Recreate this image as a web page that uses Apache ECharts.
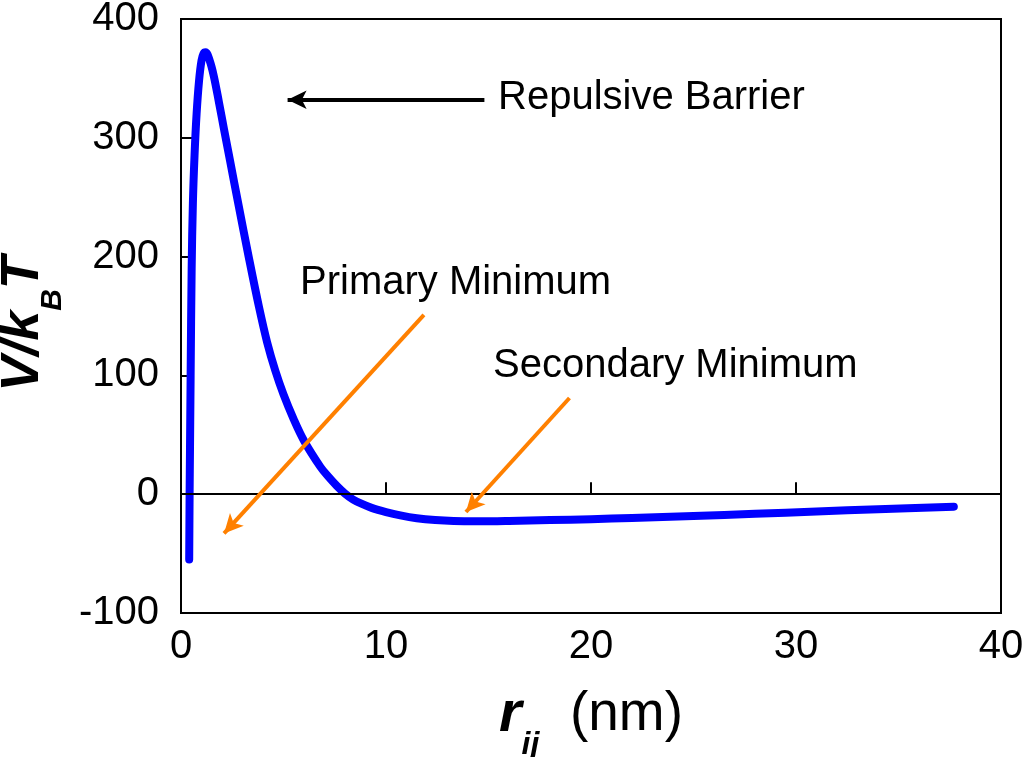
<!DOCTYPE html>
<html>
<head>
<meta charset="utf-8">
<title>DLVO potential</title>
<script src="https://cdn.jsdelivr.net/npm/echarts@6/dist/echarts.min.js"></script>
<style>
  html, body { margin: 0; padding: 0; background: #fff; }
  #chart { width: 1024px; height: 757px; }
</style>
</head>
<body>
<div id="chart"></div>
<script>
// separation r_ij (nm) and potential V/kBT
var rValues = [0.40, 0.42, 0.44, 0.47, 0.52, 0.58, 0.66, 0.76, 0.88, 1.00, 1.10, 1.20,
  1.40, 1.60, 1.85, 2.10, 2.40, 2.80, 3.30, 3.80, 4.20, 4.60, 5.00, 5.50, 6.00, 6.80,
  7.20, 7.60, 8.00, 8.40, 8.80, 9.30, 10.0, 10.7, 11.5, 12.4, 13.3, 14.5, 16.0, 18.0,
  20.0, 22.0, 25.0, 28.0, 31.0, 34.0, 37.7];
var vValues = [-55, 0, 40, 100, 190, 245, 285, 320, 348, 365, 371, 372,
  365, 352, 330, 307, 280, 244, 200, 158, 128, 104, 84, 63, 45, 23,
  14.5, 7, 0.5, -4.5, -8, -11.5, -15, -17.8, -20.2, -21.8, -22.6, -22.8, -22.5, -21.8,
  -21, -20, -18.3, -16.5, -14.6, -12.6, -10.5];

var xTicks = { min: 0, max: 40, step: 10 };
var yTicks = { min: -100, max: 400, step: 100 };

// annotation arrows: [from, to] in data units
var barrierArrow = [[14.8, 332], [5.2, 332]];
var primaryArrow = [[11.85, 151], [2.1, -33]];
var secondaryArrow = [[18.95, 81], [13.9, -15]];

var curve = rValues.map(function (r, i) { return [r, vValues[i]]; });

var FONT = "'Liberation Sans', Arial, sans-serif";

function arrowItem(pts, color) {
  return [
    { coord: pts[0], lineStyle: { color: color, width: 4, type: 'solid' } },
    { coord: pts[1] }
  ];
}

var chart = echarts.init(document.getElementById('chart'));

var option = {
  animation: false,
  backgroundColor: '#fff',
  textStyle: { fontFamily: FONT },
  grid: {
    left: 181, right: 23, top: 19, bottom: 144,
    containLabel: false,
    outerBoundsMode: 'none',
    show: true, borderColor: '#000', borderWidth: 2
  },
  xAxis: {
    type: 'value',
    min: xTicks.min, max: xTicks.max, interval: xTicks.step,
    axisLine: { show: true, lineStyle: { color: '#000', width: 2 } },
    axisTick: { show: true, inside: true, length: 12, lineStyle: { color: '#000', width: 2 } },
    axisLabel: { color: '#000', fontSize: 40, fontFamily: FONT, margin: 14 },
    splitLine: { show: false },
    name: '{r|r}{s|ij}{n|  (nm)}',
    nameLocation: 'middle',
    nameGap: 56,
    nameTextStyle: {
      rich: {
        r: { fontSize: 58, fontWeight: 'bold', fontStyle: 'italic', fontFamily: FONT, color: '#000', lineHeight: 92 },
        s: { fontSize: 32, fontWeight: 'bold', fontStyle: 'italic', fontFamily: FONT, color: '#000', lineHeight: 32, verticalAlign: 'bottom' },
        n: { fontSize: 55, fontFamily: FONT, color: '#000', lineHeight: 92 }
      }
    }
  },
  yAxis: {
    type: 'value',
    min: yTicks.min, max: yTicks.max, interval: yTicks.step,
    axisLine: { show: true, lineStyle: { color: '#000', width: 2 } },
    axisTick: { show: true, inside: true, length: 12, lineStyle: { color: '#000', width: 2 } },
    axisLabel: { color: '#000', fontSize: 40, fontFamily: FONT, margin: 22 },
    splitLine: { show: false },
    name: '{v|V/k}{s|B}{v|T}',
    nameLocation: 'middle',
    nameGap: 113,
    nameTextStyle: {
      padding: [0, 16, 0, 0],
      rich: {
        v: { fontSize: 54, fontWeight: 'bold', fontStyle: 'italic', fontFamily: FONT, color: '#000', lineHeight: 90 },
        s: { fontSize: 30, fontWeight: 'bold', fontStyle: 'italic', fontFamily: FONT, color: '#000', lineHeight: 30, verticalAlign: 'bottom' }
      }
    }
  },
  series: [{
    type: 'line',
    data: curve,
    smooth: 0.35,
    showSymbol: false,
    lineStyle: { color: '#0000ff', width: 8, cap: 'round', join: 'round' },
    z: 3,
    markLine: {
      silent: true,
      symbol: 'none',
      label: { show: false },
      lineStyle: { color: '#000', width: 2, type: 'solid' },
      data: [{ yAxis: 0 }]
    }
  }, {
    // annotation arrows drawn above the curve
    type: 'line',
    data: [],
    z: 5,
    markLine: {
      silent: true,
      symbol: ['none', 'arrow'],
      symbolSize: [14, 19],
      label: { show: false },
      data: [
        arrowItem(barrierArrow, '#000'),
        arrowItem(primaryArrow, '#ff8000'),
        arrowItem(secondaryArrow, '#ff8000')
      ]
    }
  }],
  graphic: [
    { type: 'text', left: 498, top: 78, style: { text: 'Repulsive Barrier', font: '40px ' + FONT, fill: '#000' } },
    { type: 'text', left: 300, top: 263, style: { text: 'Primary Minimum', font: '40px ' + FONT, fill: '#000' } },
    { type: 'text', left: 493, top: 346, style: { text: 'Secondary Minimum', font: '40px ' + FONT, fill: '#000' } }
  ]
};

chart.setOption(option);
</script>
</body>
</html>
